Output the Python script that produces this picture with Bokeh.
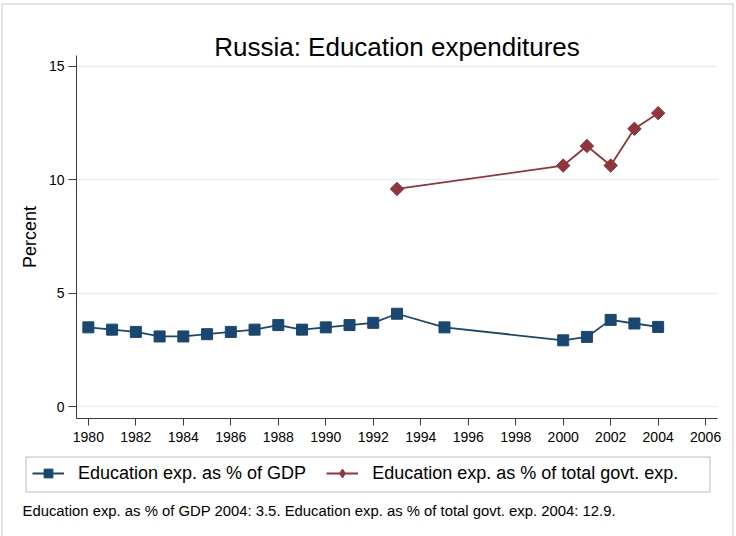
from bokeh.plotting import figure
from bokeh.models import (Range1d, FixedTicker, Legend, LegendItem, Label,
                          BoxAnnotation)
from bokeh.embed import file_html
from bokeh.resources import INLINE

# ---- data ----
title_text = "Russia: Education expenditures"
y_label = "Percent"
gdp_label = "Education exp. as % of GDP"
gov_label = "Education exp. as % of total govt. exp."
note_text = ("Education exp. as % of GDP 2004: 3.5. "
             "Education exp. as % of total govt. exp. 2004: 12.9.")

gdp_years = [1980, 1981, 1982, 1983, 1984, 1985, 1986, 1987, 1988, 1989,
             1990, 1991, 1992, 1993, 1995, 2000, 2001, 2002, 2003, 2004]
gdp_values = [3.5, 3.4, 3.3, 3.1, 3.1, 3.2, 3.3, 3.4, 3.6, 3.4,
              3.5, 3.6, 3.7, 4.1, 3.5, 2.93, 3.08, 3.83, 3.67, 3.52]

gov_years = [1993, 2000, 2001, 2002, 2003, 2004]
gov_values = [9.6, 10.63, 11.49, 10.63, 12.25, 12.94]

x_ticks = list(range(1980, 2007, 2))
y_ticks = [0, 5, 10, 15]

# ---- layout / style ----
FONT = "Liberation Sans"
BLUE = "#1a476f"
RED = "#90353b"
AXIS = "#3a3a3a"
W, H = 736, 536

# plot region (data bounds of the axes)
X_LO, X_HI = 1979.5, 2006.5
Y_LO, Y_HI = -0.516, 15.48

p = figure(width=W, height=H, output_backend="svg", toolbar_location=None,
           x_range=Range1d(1976.2987, 2007.3003),
           y_range=Range1d(-5.7158, 17.9037),
           min_border=0, min_border_left=0, min_border_right=0,
           min_border_top=0, min_border_bottom=0,
           background_fill_color="white", border_fill_color="white",
           outline_line_color=None)
p.title.visible = False

# axes drawn at the edges of the plot region
for ax in (p.xaxis, p.yaxis):
    ax.axis_line_color = AXIS
    ax.axis_line_width = 1
    ax.major_tick_line_color = AXIS
    ax.major_tick_line_width = 1
    ax.major_tick_in = 0
    ax.minor_tick_line_color = None
    ax.major_label_text_font = FONT
    ax.major_label_text_font_size = "14px"
    ax.major_label_text_color = "black"

p.xaxis.fixed_location = Y_LO
p.xaxis.bounds = (X_LO, X_HI)
p.xaxis.ticker = FixedTicker(ticks=x_ticks)
p.xaxis.major_tick_out = 7
p.xaxis.major_label_standoff = 6

p.yaxis.fixed_location = X_LO
p.yaxis.bounds = (Y_LO, Y_HI)
p.yaxis.ticker = FixedTicker(ticks=y_ticks)
p.yaxis.major_tick_out = 8
p.yaxis.major_label_standoff = 4
p.yaxis.axis_label = y_label
p.yaxis.axis_label_text_font = FONT
p.yaxis.axis_label_text_font_size = "18px"
p.yaxis.axis_label_text_font_style = "normal"
p.yaxis.axis_label_text_color = "black"
p.yaxis.axis_label_standoff = 6

p.xgrid.visible = False
p.ygrid.ticker = FixedTicker(ticks=y_ticks)
p.ygrid.cross_bounds = (X_LO, X_HI)
p.ygrid.grid_line_color = "#e6eef1"
p.ygrid.grid_line_width = 1.5

# series
l1 = p.line(gdp_years, gdp_values, line_color=BLUE, line_width=1.8)
s1 = p.scatter(gdp_years, gdp_values, marker="square", size=11,
               fill_color=BLUE, line_color=BLUE)
l2 = p.line(gov_years, gov_values, line_color=RED, line_width=1.8)
s2 = p.scatter(gov_years, gov_values, marker="square", angle=0.7853981634,
               size=9.5, fill_color=RED, line_color=RED)
# legend key for the diamond markers (legend keys are drawn unrotated)
k2 = p.scatter(gov_years, gov_values, marker="diamond", size=12,
               fill_color=RED, line_color=RED, visible=False)

legend = Legend(items=[LegendItem(label=gdp_label, renderers=[l1, s1]),
                       LegendItem(label=gov_label, renderers=[l2, k2])],
                orientation="horizontal", location=(25, 45),
                label_text_font=FONT, label_text_font_size="18px",
                label_text_color="black",
                glyph_width=32, glyph_height=22, label_standoff=14,
                spacing=20, padding=7, margin=0,
                border_line_color="#222222", border_line_alpha=0,
                border_line_width=1,
                background_fill_color="white", background_fill_alpha=0)
p.add_layout(legend)

# legend frame (fixed-size box as in the original graph)
legend_box = BoxAnnotation(left=25.5, right=709.5, top=H - 456.5,
                           bottom=H - 491.5,
                           left_units="screen", right_units="screen",
                           top_units="screen", bottom_units="screen",
                           fill_alpha=0, line_color="#222222", line_width=1,
                           level="overlay")
p.add_layout(legend_box)

title = Label(x=396.5, y=H - 46.7, x_units="screen", y_units="screen",
              text=title_text, text_align="center", text_baseline="alphabetic",
              text_font=FONT, text_font_size="26px", text_color="black")
p.add_layout(title)

note = Label(x=22, y=H - 510, x_units="screen", y_units="screen",
             text=note_text, text_align="left", text_baseline="alphabetic",
             text_font=FONT, text_font_size="14.85px", text_color="black")
p.add_layout(note)

# outer frame of the graph image
frame = BoxAnnotation(left=1.5, right=732.5, top=H - 3.5, bottom=-10,
                      left_units="screen", right_units="screen",
                      top_units="screen", bottom_units="screen",
                      fill_alpha=0, line_color="#4a4a4a", line_width=1,
                      level="overlay")
p.add_layout(frame)

open("out.html", "w").write(file_html(p, INLINE))
